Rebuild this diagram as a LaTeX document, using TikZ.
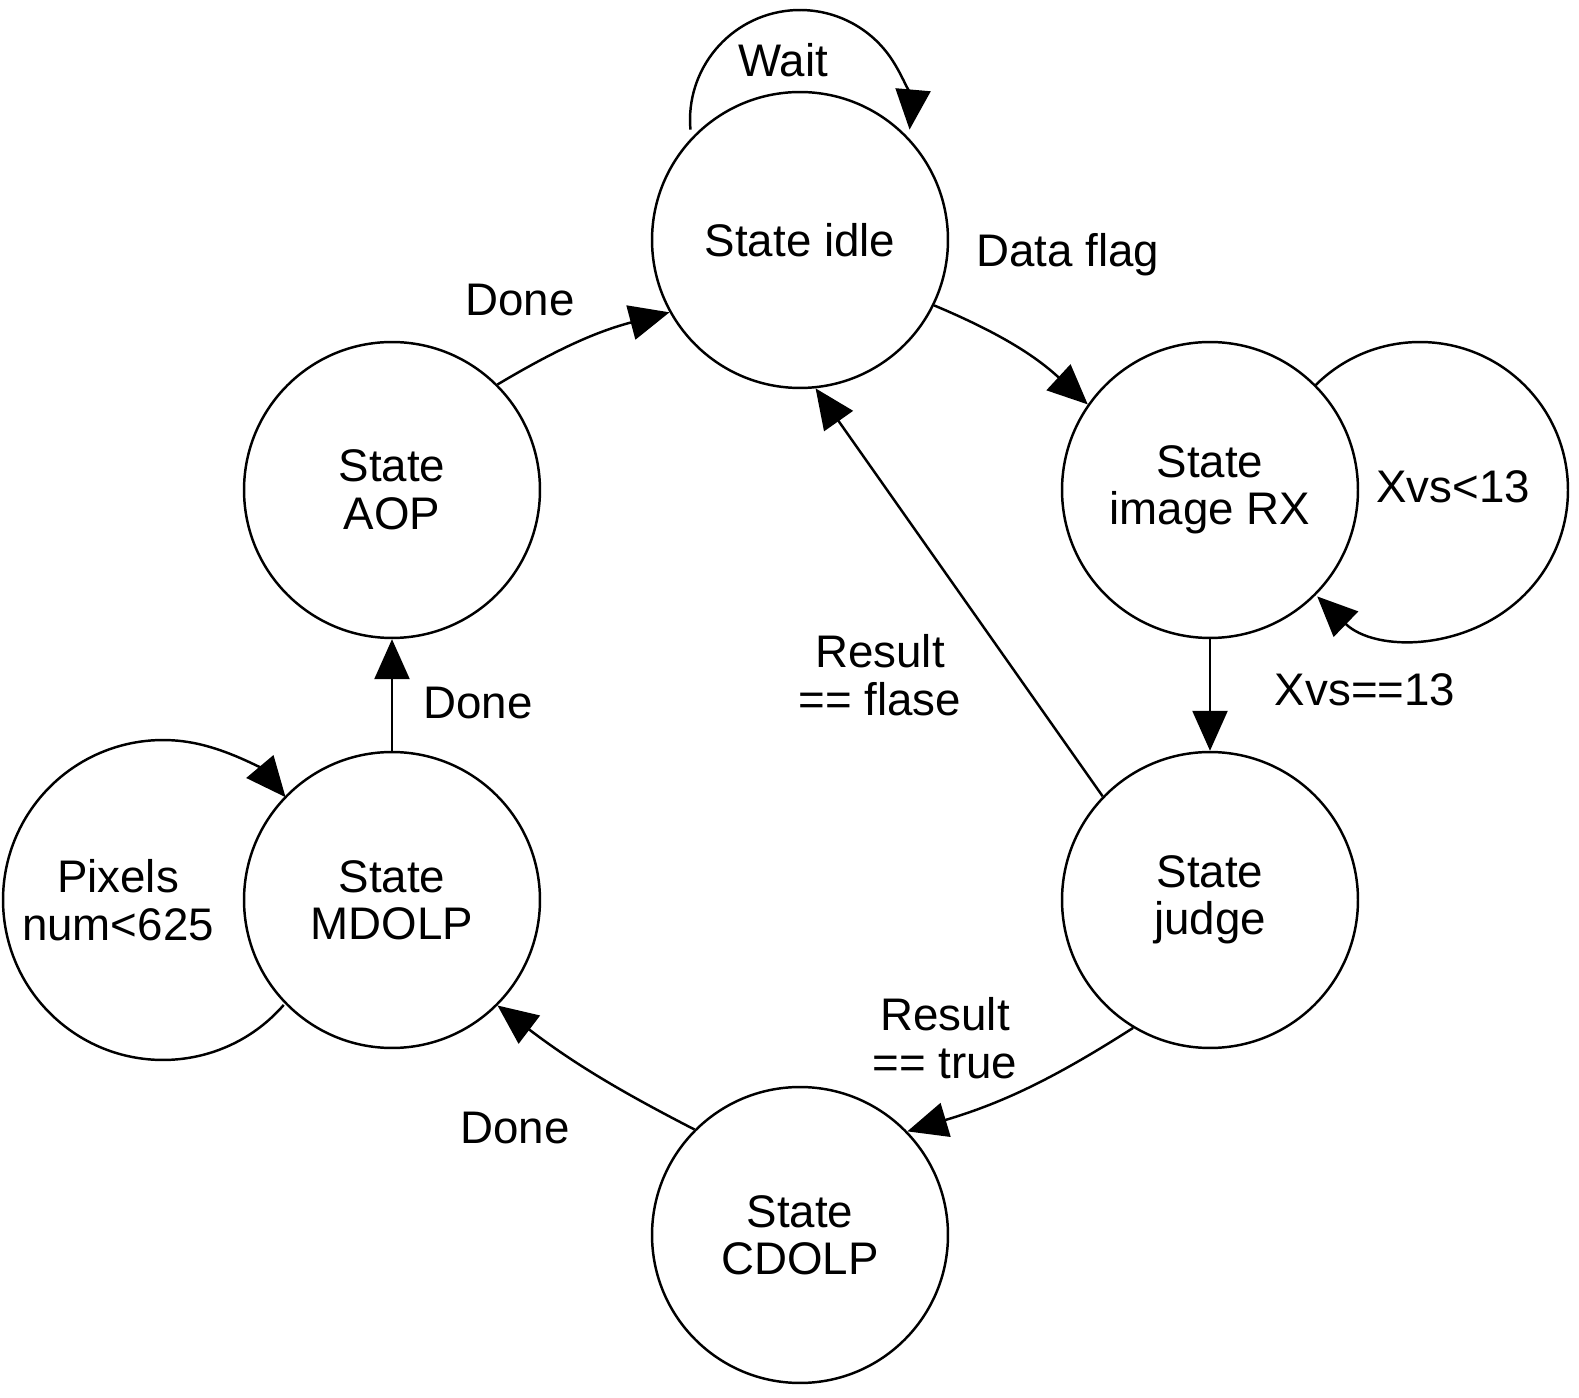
\documentclass[tikz,border=0pt]{standalone}
\usepackage{fontspec}
\setmainfont{Liberation Sans}
\usetikzlibrary{arrows.meta}
\begin{document}
\begin{tikzpicture}[x=0.02cm,y=0.02cm,
  st/.style={circle,draw,line width=1.4pt,fill=white,minimum size=5.92cm,align=center,inner sep=0pt,font=\fontsize{26}{27}\selectfont},
  lb/.style={align=center,font=\fontsize{26}{27}\selectfont},
  ar/.style={line width=1.4pt,-{Triangle[length=0.8cm,width=0.7cm]}},
  lp/.style={line width=1.4pt}]
\useasboundingbox (0,0) rectangle (1579,1397);
\coordinate (wc) at (800,1277);
\coordinate (xc) at (1420,907);
\coordinate (pc) at (163,497);
\node[st] (idle) at (800,1157) {State idle};
\node[st] (rx) at (1210,907) {State\\image RX};
\node[st] (judge) at (1210,497) {State\\judge};
\node[st] (cdolp) at (800,162) {State\\CDOLP};
\node[st] (mdolp) at (392,497) {State\\MDOLP};
\node[st] (aop) at (392,907) {State\\AOP};
\draw[ar] ([shift={(185:2.2cm)}]wc) arc[start angle=185,end angle=-5,radius=2.2cm];
\draw[ar] ([shift={(135:2.96cm)}]xc) arc[start angle=135,end angle=-134,radius=2.96cm];
\draw[ar] ([shift={(-41:3.2cm)}]pc) arc[start angle=-41,end angle=-320,radius=3.2cm];
\draw[ar] (idle.-26) to[bend left=10] (rx.145);
\draw[ar] (rx.south) -- (judge.north);
\draw[ar] (judge.136) -- (idle.-84);
\draw[ar] (judge.-121) to[bend left=8] (cdolp.44);
\draw[ar] (cdolp.135) to[bend left=5] (mdolp.-45);
\draw[ar] (mdolp.north) -- (aop.south);
\draw[ar] (aop.45) to[bend left=8] (idle.209);
\node[lb] (l1) at (783,1337) {Wait};
\node[lb] (l2) at (1068,1142) {Data flag};
\node[lb] (l3) at (1453,910) {Xvs<13};
\node[lb] (l4) at (1365,707) {Xvs==13};
\node[lb] (l5) at (880,722) {Result\\== flase};
\node[lb] (l6) at (945,359) {Result\\== true};
\node[lb] (l7) at (515,269) {Done};
\node[lb] (l8) at (478,694) {Done};
\node[lb] (l9) at (520,1097) {Done};
\node[lb] (l10) at (118,497) {Pixels\\num<625};
\end{tikzpicture}
\end{document}
